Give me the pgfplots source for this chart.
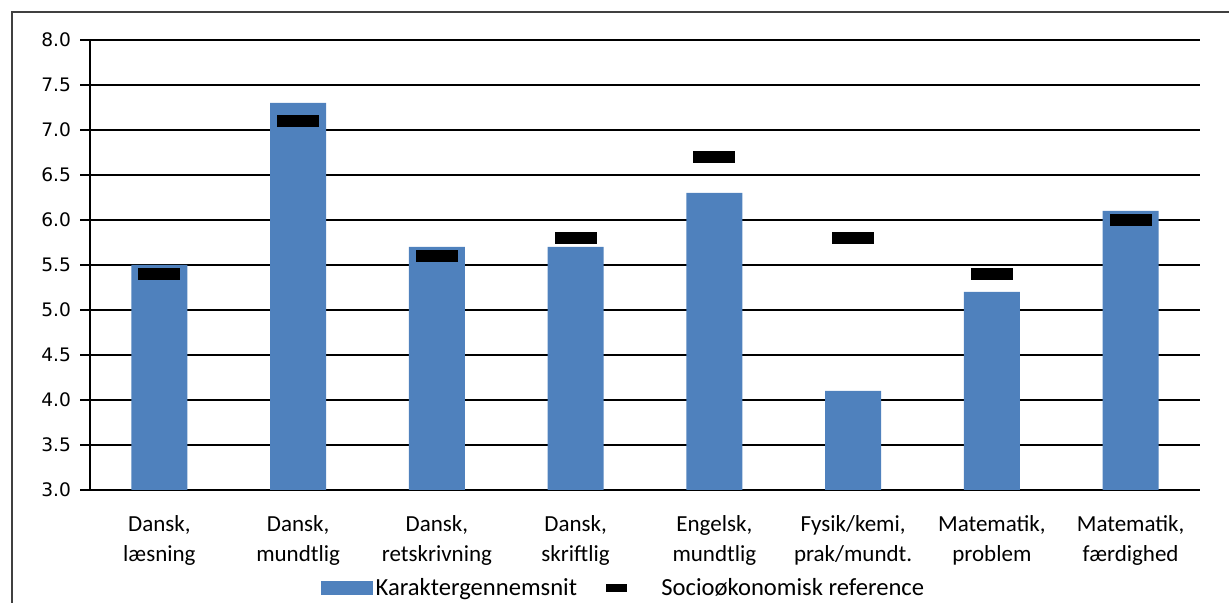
\documentclass[border=0pt]{standalone}
\usepackage{fontspec}
\setmainfont{Carlito}
\newfontfamily\dejavu{DejaVu Sans}
\usepackage{pgfplots}
\pgfplotsset{compat=1.18}
\definecolor{barblue}{HTML}{4F81BD}
\pgfdeclareplotmark{refbar}{\pgfpathrectangle{\pgfpoint{-10.5pt}{-3pt}}{\pgfpoint{21pt}{6pt}}\pgfusepathqfill}
\begin{document}
\begin{tikzpicture}
\begin{axis}[
  scale only axis,
  width=555pt, height=225pt,
  xmin=0.5, xmax=8.5,
  ymin=3, ymax=8,
  axis x line*=bottom, axis y line*=left,
  axis line style={-, black, line width=0.8pt},
  ytick={3,3.5,...,8.01},
  yticklabel style={/pgf/number format/fixed, /pgf/number format/fixed zerofill, /pgf/number format/precision=1, /pgf/number format/assume math mode=true},
  yticklabel style={font=\dejavu\fontsize{9.3}{11}\selectfont, xshift=-1pt},
  ymajorgrids, grid style={black, line width=0.8pt},
  tick align=outside,
  major tick length=5pt,
  ytick style={black, line width=0.8pt},
  xtick={1,...,8},
  xtick style={draw=none},
  minor xtick={0.5,1.5,...,8.5},
  minor tick length=4pt,
  minor x tick style={black, line width=0.8pt},
  xticklabels={{Dansk,\\læsning},{Dansk,\\mundtlig},{Dansk,\\retskrivning},{Dansk,\\skriftlig},{Engelsk,\\mundtlig},{Fysik/kemi,\\prak/mundt.},{Matematik,\\problem},{Matematik,\\færdighed}},
  xticklabel style={align=center, font=\fontsize{11.5}{15}\selectfont, yshift=-4pt},
  legend columns=2,
  legend style={draw=none, at={(axis description cs:0.481,0)}, anchor=center, yshift=-49pt, font=\fontsize{12.3}{14}\selectfont, nodes={inner xsep=1.5pt}, /tikz/every even column/.append style={column sep=13pt}},
]
\addplot[ybar, bar width=28pt, fill=barblue, draw=none,
  legend image code/.code={\fill[barblue] (0pt,-3.5pt) rectangle (26pt,3.5pt);}]
  coordinates {(1,5.5) (2,7.3) (3,5.7) (4,5.7) (5,6.3) (6,4.1) (7,5.2) (8,6.1)};
\addlegendentry{Karaktergennemsnit}
\addplot[only marks, mark=refbar, black,
  legend image code/.code={\fill[black] (0pt,-1.75pt) rectangle (10pt,1.75pt); \path[draw=none, fill=none] (10pt,0pt) -- (26pt,0pt);}]
  coordinates {(1,5.4) (2,7.1) (3,5.6) (4,5.8) (5,6.7) (6,5.8) (7,5.4) (8,6.0)};
\addlegendentry{Socioøkonomisk reference}
\end{axis}
\draw[black!75, line width=0.6pt] (-39pt,-70pt) -- (-39pt,239pt) -- (600pt,239pt);
\pgfresetboundingbox
\useasboundingbox (-45pt,-56.5pt) rectangle (569.5pt,245pt);
\end{tikzpicture}
\end{document}
